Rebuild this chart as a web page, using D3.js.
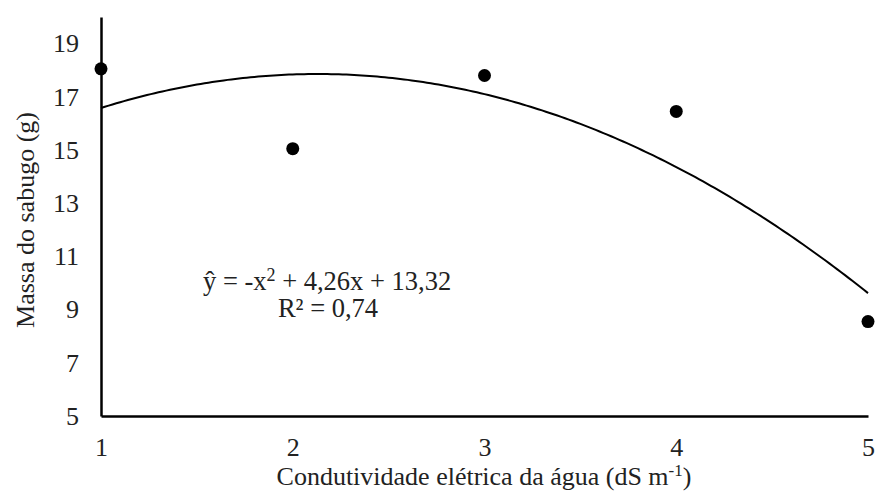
<!DOCTYPE html>
<html>
<head>
<meta charset="utf-8">
<script src="https://cdn.jsdelivr.net/npm/d3@7"></script>
<style>
  body { margin: 0; background: #fff; }
</style>
</head>
<body>
<svg id="svg" width="876" height="500"></svg>
<script>
// data
var xValues = [1, 2, 3, 4, 5];
var yValues = [18.05, 15.05, 17.8, 16.45, 8.55];
var yTicks = [5, 7, 9, 11, 13, 15, 17, 19];
var coef = [-1, 4.26, 13.32]; // a, b, c of fitted quadratic

var serif = "'Liberation Serif', 'Times New Roman', Times, serif";

var svg = d3.select("#svg");
var margin = {left: 101, right: 8, top: 17, bottom: 84};
var W = 876, H = 500;

var x = d3.scaleLinear().domain([1, 5]).range([margin.left, W - margin.right]);
var y = d3.scaleLinear().domain([5, 20]).range([H - margin.bottom, margin.top]);

function styleAxis(g) {
    g.attr("font-family", null).attr("font-size", null);
    g.select(".domain").attr("stroke", "#000").attr("stroke-width", 2.5);
    g.selectAll("text")
        .style("font-family", serif)
        .style("font-size", "26px")
        .attr("fill", "#222");
}

// axes
svg.append("g")
    .attr("transform", "translate(0," + y(5) + ")")
    .call(d3.axisBottom(x).tickValues(xValues).tickSize(0).tickPadding(22).tickFormat(d3.format("d")))
    .call(styleAxis);

svg.append("g")
    .attr("transform", "translate(" + x(1) + ",0)")
    .call(d3.axisLeft(y).tickValues(yTicks).tickSize(0).tickPadding(22).tickFormat(d3.format("d")))
    .call(styleAxis);

// fitted curve
var curvePts = d3.range(1, 5.001, 0.02).map(function(v){
    return [v, coef[0]*v*v + coef[1]*v + coef[2]];
});
var line = d3.line().x(function(d){ return x(d[0]); }).y(function(d){ return y(d[1]); });
svg.append("path")
    .datum(curvePts)
    .attr("d", line)
    .attr("fill", "none")
    .attr("stroke", "#000")
    .attr("stroke-width", 2);

// points
svg.selectAll("circle.pt")
    .data(xValues)
    .enter().append("circle")
    .attr("class", "pt")
    .attr("cx", function(d){ return x(d); })
    .attr("cy", function(d, i){ return y(yValues[i]); })
    .attr("r", 6.5)
    .attr("fill", "#000");

// equation
var eq = svg.append("text")
    .attr("x", 203).attr("y", 290)
    .style("font-family", serif)
    .style("font-size", "26.5px")
    .attr("fill", "#222");
eq.append("tspan").text("ŷ = -x");
eq.append("tspan").attr("dy", -9).style("font-size", "18px").text("2");
eq.append("tspan").attr("dy", 9).text(" + 4,26x + 13,32");

svg.append("text")
    .attr("x", 328).attr("y", 317)
    .attr("text-anchor", "middle")
    .style("font-family", serif)
    .style("font-size", "26.5px")
    .attr("fill", "#222")
    .text("R² = 0,74");

// axis titles
var xt = svg.append("text")
    .attr("x", 484).attr("y", 485)
    .attr("text-anchor", "middle")
    .style("font-family", serif)
    .style("font-size", "26px")
    .attr("fill", "#222");
xt.append("tspan").text("Condutividade elétrica da água (dS m");
xt.append("tspan").attr("dy", -9).style("font-size", "17px").text("-1");
xt.append("tspan").attr("dy", 9).text(")");

svg.append("text")
    .attr("transform", "translate(34,220) rotate(-90)")
    .attr("text-anchor", "middle")
    .style("font-family", serif)
    .style("font-size", "26px")
    .attr("fill", "#222")
    .text("Massa do sabugo (g)");
</script>
</body>
</html>
